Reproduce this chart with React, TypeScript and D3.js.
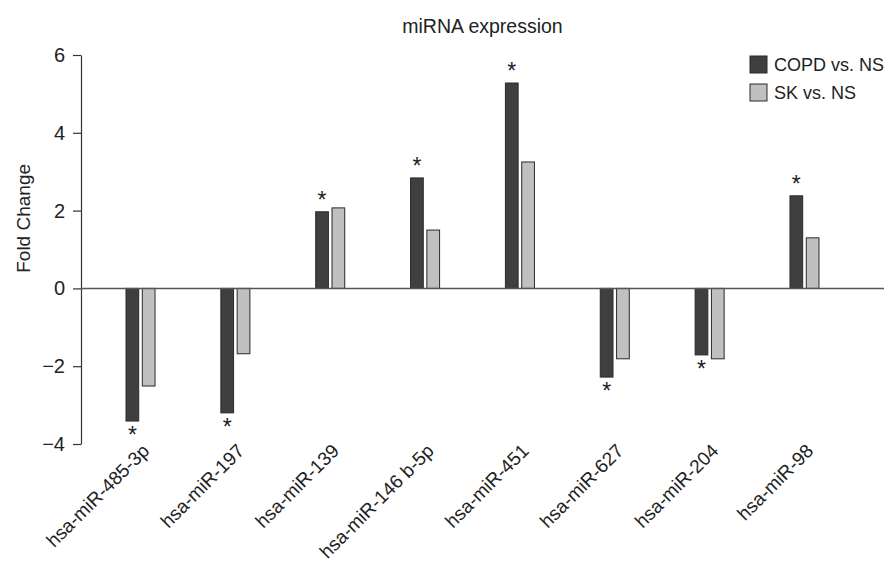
// miRNA expression - grouped bar chart (fold change), drawn with d3 scales
import React, { useEffect, useRef } from 'react';
import * as d3 from 'd3';

// 1- data
const categories = [
  'hsa-miR-485-3p',
  'hsa-miR-197',
  'hsa-miR-139',
  'hsa-miR-146 b-5p',
  'hsa-miR-451',
  'hsa-miR-627',
  'hsa-miR-204',
  'hsa-miR-98',
];
const copdVsNs = [-3.41, -3.2, 1.97, 2.84, 5.28, -2.28, -1.71, 2.38];
const skVsNs = [-2.51, -1.68, 2.07, 1.5, 3.25, -1.81, -1.81, 1.3];
// significance flags (asterisks) for COPD vs. NS
const copdSignificant = [true, true, true, true, true, true, true, true];
const seriesNames = ['COPD vs. NS', 'SK vs. NS'];
const yTicks = [-4, -2, 0, 2, 4, 6];

const width = 888;
const height = 569;
const margin = { top: 55, right: 4, bottom: 125, left: 81 };
const font = 'Liberation Sans, Arial, Helvetica, sans-serif';
const colors = ['#3f3f3f', '#c0c0c0'];

export default function App() {
  const axisRef = useRef<SVGGElement>(null);

  // 2- scales
  const y = d3
    .scaleLinear()
    .domain([-4, 6])
    .range([height - margin.bottom, margin.top]);

  // groups: first starts at 126, last ends at 819
  const x = d3
    .scaleBand()
    .domain(categories)
    .range([126, 819])
    .paddingInner(0.694)
    .paddingOuter(0);

  const inner = d3
    .scaleBand()
    .domain(seriesNames)
    .range([0, x.bandwidth()])
    .paddingInner(0.22);

  // 3- y axis through d3.axisLeft
  useEffect(() => {
    const g = d3.select(axisRef.current);
    g.call(
      d3
        .axisLeft(y)
        .tickValues(yTicks)
        .tickSize(8)
        .tickPadding(8)
        .tickSizeOuter(0)
    );
    g.select('.domain').attr('stroke', '#333').attr('stroke-width', 1.2);
    g.selectAll('.tick line').attr('stroke', '#333').attr('stroke-width', 1.2);
    g.selectAll('.tick text')
      .attr('fill', '#222')
      .style('font-family', font)
      .style('font-size', '20px');
  }, []);

  const series = [copdVsNs, skVsNs];

  return (
    <svg
      width={width}
      height={height}
      style={{ position: 'absolute', left: 0, top: 0, background: '#fff' }}
    >
      {/* title */}
      <text
        x={(margin.left + width - margin.right) / 2}
        y={33}
        textAnchor="middle"
        fontFamily={font}
        fontSize={19.5}
        fill="#222"
      >
        miRNA expression
      </text>

      {/* y label */}
      <text
        transform={`translate(30, ${y(1.8)}) rotate(-90)`}
        textAnchor="middle"
        fontFamily={font}
        fontSize={19}
        fill="#222"
      >
        Fold Change
      </text>

      <g ref={axisRef} transform={`translate(${margin.left},0)`} />

      {/* bars */}
      {categories.map((cat, i) => (
        <g key={cat} transform={`translate(${x(cat)},0)`}>
          {series.map((vals, s) => {
            const v = vals[i];
            return (
              <rect
                key={s}
                x={inner(seriesNames[s])}
                y={y(Math.max(0, v))}
                width={inner.bandwidth()}
                height={Math.abs(y(v) - y(0))}
                fill={colors[s]}
                stroke="#2a2a2a"
                strokeWidth={1}
              />
            );
          })}
          {copdSignificant[i] && (
            <text
              x={(inner(seriesNames[0]) as number) + inner.bandwidth() / 2}
              y={copdVsNs[i] >= 0 ? y(copdVsNs[i]) - 4 : y(copdVsNs[i]) + 22}
              textAnchor="middle"
              fontFamily={font}
              fontSize={23}
              fill="#222"
            >
              *
            </text>
          )}
        </g>
      ))}

      {/* zero line */}
      <line
        x1={margin.left}
        x2={width - margin.right}
        y1={y(0)}
        y2={y(0)}
        stroke="#555"
        strokeWidth={1.5}
      />

      {/* x labels, rotated */}
      {categories.map((cat) => (
        <text
          key={cat}
          transform={`translate(${(x(cat) as number) + x.bandwidth() / 2 + 10}, 452) rotate(-45)`}
          textAnchor="end"
          fontFamily={font}
          fontSize={19}
          fill="#222"
        >
          {cat}
        </text>
      ))}

      {/* legend */}
      {seriesNames.map((name, s) => (
        <g key={name} transform={`translate(750, ${56 + s * 28})`}>
          <rect
            width={17}
            height={17}
            fill={colors[s]}
            stroke="#2a2a2a"
            strokeWidth={1}
          />
          <text x={24} y={15} fontFamily={font} fontSize={18} fill="#222">
            {name}
          </text>
        </g>
      ))}
    </svg>
  );
}
